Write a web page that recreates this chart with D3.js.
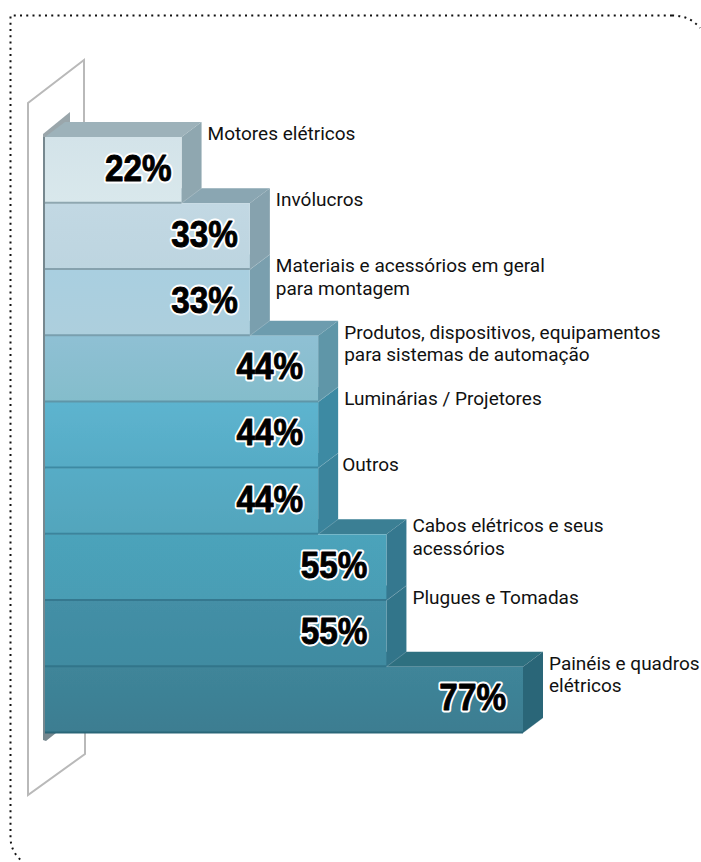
<!DOCTYPE html>
<html><head><meta charset="utf-8">
<script src="https://cdn.jsdelivr.net/npm/d3@7/dist/d3.min.js"></script>
<style>html,body{margin:0;padding:0;background:#fff}svg{display:block}</style>
</head><body><svg id="c" width="701" height="862"></svg>
<script>
const categories = [
  ["Motores elétricos"],
  ["Invólucros"],
  ["Materiais e acessórios em geral","para montagem"],
  ["Produtos, dispositivos, equipamentos","para sistemas de automação"],
  ["Luminárias / Projetores"],
  ["Outros"],
  ["Cabos elétricos e seus","acessórios"],
  ["Plugues e Tomadas"],
  ["Painéis e quadros","elétricos"]
];
const values = [22,33,33,44,44,44,55,55,77];
const frontTop = ["#d3e3e9","#c2d8e3","#a9cfe0","#8fc0d4","#5db4cf","#57acc6","#4ba3bb","#448fa6","#3f8599"];
const frontBot = ["#d9e8ec","#bdd5e0","#adcfdd","#84bdcb","#56abc5","#52a5bc","#4a9db4","#3f8ba1","#3c7d91"];
const sideCol  = ["#8fa7b0","#86a2ae","#7a9fae","#5f96a8","#3d8aa3","#3b849c","#36788f","#33748a","#2b6678"];
const topCol   = ["#9db2ba","#8aa6b2","#7a9fae","#6d9cae","#3d8aa3","#3b849c","#3b7f94","#33748a","#2f6f80"];

const svg = d3.select("#c");
const x = d3.scaleLinear().domain([0,77]).range([45,523]);
const y = d3.scaleBand().domain(d3.range(values.length)).range([137,733]).paddingInner(0);
const dx = 20, dy = 15;
const defs = svg.append("defs");
values.forEach((v,i)=>{
  const g = defs.append("linearGradient").attr("id","f"+i).attr("x1",0).attr("x2",0).attr("y1",0).attr("y2",1);
  g.append("stop").attr("offset",0).attr("stop-color",frontTop[i]);
  g.append("stop").attr("offset",1).attr("stop-color",frontBot[i]);
});
const blur = defs.append("filter").attr("id","soft");
blur.append("feGaussianBlur").attr("stdDeviation",0.6);

// dotted frame
svg.append("path")
  .attr("d","M672,15.5 L10.5,15.5 L10.5,838 Q11,852 22,861")
  .attr("fill","none").attr("stroke","#111").attr("stroke-width",2).attr("stroke-dasharray","2 4.25");
svg.append("path")
  .attr("d","M672,15.5 Q690,15.5 700,28")
  .attr("fill","none").attr("stroke","#111").attr("stroke-width",2).attr("stroke-dasharray","2 4.25");

// back wall
svg.append("path")
  .attr("d","M84,122 L84,60 L28,103 L28,795 L85,754 L85,733")
  .attr("fill","none").attr("stroke","#b9b9b9").attr("stroke-width",2).attr("filter","url(#soft)");

// shadow stubs of the bar stack against the wall
svg.append("path").attr("d","M43,137 L43,134 L70,112 L70,122 L48,137 Z").attr("fill","#9aa6ab").attr("filter","url(#soft)");
svg.append("path").attr("d","M43,137 L43,740 L46,741 L56,733 L46,733 L46,137 Z").attr("fill","#77888f").attr("filter","url(#soft)");

// rows: bottom first so upper rows overlap the top faces below
const order = d3.range(values.length).reverse();
const rows = svg.append("g").attr("filter","url(#soft)").selectAll("g").data(order).join("g");
rows.append("path").attr("fill",i=>topCol[i])
  .attr("d",i=>{const r=x(values[i]),t=y(i),l=x(0);return `M${l},${t}L${l+dx},${t-dy}L${r+dx},${t-dy}L${r},${t}Z`;});
rows.append("path").attr("fill",i=>sideCol[i])
  .attr("d",i=>{const r=x(values[i]),t=y(i),b=t+y.bandwidth();return `M${r},${t}L${r+dx},${t-dy}L${r+dx},${b-dy}L${r},${b}Z`;});
rows.append("rect").attr("x",x(0)).attr("y",i=>y(i))
  .attr("width",i=>x(values[i])-x(0)).attr("height",y.bandwidth())
  .attr("fill",i=>`url(#f${i})`);
rows.append("line").attr("x1",x(0)).attr("x2",i=>x(values[i]))
  .attr("y1",i=>y(i)+y.bandwidth()-0.5).attr("y2",i=>y(i)+y.bandwidth()-0.5)
  .attr("stroke",i=>sideCol[i]).attr("stroke-width",2);
rows.append("line").attr("x1",i=>x(values[i])).attr("x2",i=>x(values[i])+dx)
  .attr("y1",i=>y(i)+y.bandwidth()).attr("y2",i=>y(i)+y.bandwidth()-dy)
  .attr("stroke","#ffffff").attr("stroke-opacity",0.2);

// percentages
const insetByValue = {22:10,33:12,44:15,55:19,77:17};
const pct = svg.append("g").selectAll("g").data(values).join("g")
  .attr("transform",(v,i)=>`translate(${x(v)-insetByValue[v]},${y(i)+43.5}) scale(0.9,1)`);
[["#fff",5],["#000",0.9]].forEach(([col,w])=>{
  pct.append("text").attr("text-anchor","end")
    .attr("font-family","'Liberation Sans',sans-serif")
    .attr("font-weight",700).attr("font-size",37)
    .attr("fill","#000").attr("stroke",col).attr("stroke-width",w)
    .attr("stroke-linejoin","round")
    .text(v=>v+"%");
});

// category labels
const lab = svg.append("g").selectAll("text").data(categories).join("text")
  .attr("font-family","Roboto,'Noto Sans',sans-serif")
  .attr("font-size",19).attr("fill","#111");
lab.each(function(lines,i){
  const xx = x(values[i])+dx+(i===5?4:6);
  const base = y(i)+(i===6?-2:3);
  d3.select(this).selectAll("tspan").data(lines).join("tspan")
    .attr("x",xx).attr("y",(d,k)=>base+k*22.5).text(d=>d);
});
</script></body></html>
